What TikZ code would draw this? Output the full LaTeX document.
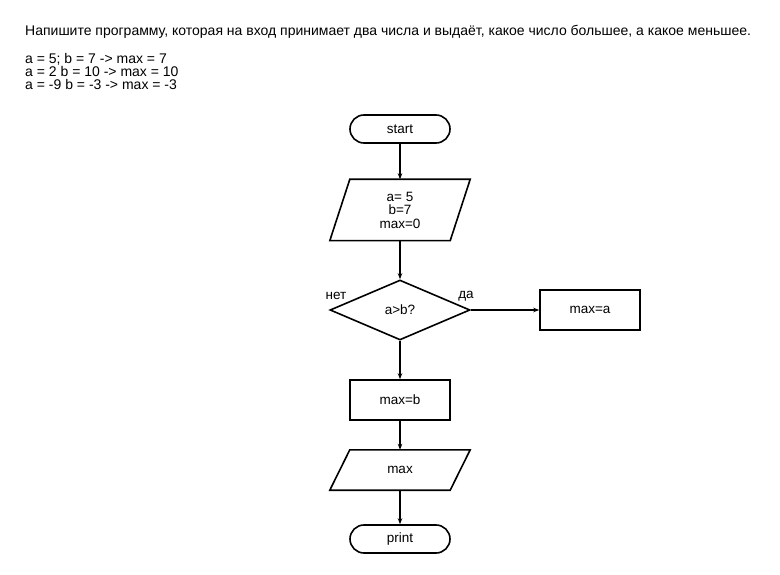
\documentclass[tikz,border=0pt]{standalone}
\usepackage{fontspec}
\setmainfont{Liberation Sans}
\usetikzlibrary{positioning,shapes.geometric,arrows.meta}

\begin{document}
\begin{tikzpicture}[x=1pt, y=-1pt, font=\fontsize{13.5}{13.5}\selectfont,
    outline/.style={draw, line width=1.6pt},
    terminal/.style={outline, rounded corners=14pt, minimum width=100pt, minimum height=28pt, inner sep=0pt},
    procbox/.style={outline, minimum width=100pt, minimum height=40pt, inner sep=0pt},
    iobox/.style={minimum width=120pt, inner sep=0pt, align=center},
    decision/.style={outline, diamond, aspect=2.33, minimum width=140pt, minimum height=60pt, inner sep=0pt},
    tasktext/.style={anchor=base west, inner sep=0pt, font=\fontsize{14}{14}\selectfont},
    arr/.style={line width=1.1pt, -{Stealth[length=6pt, width=4.5pt]}}]
  \useasboundingbox (0,0) rectangle (780,575);
  % task text
  \node[tasktext] (task) at (25,36)
    {Напишите программу, которая на вход принимает два числа и выдаёт, какое число большее, а какое меньшее.};
  \node[tasktext] (ex1) at (25,64) {a = 5; b = 7 -> max = 7};
  \node[tasktext] (ex2) at (25,77) {a = 2 b = 10 -> max = 10};
  \node[tasktext] (ex3) at (25,90) {a = -9 b = -3 -> max = -3};
  % flowchart
  \node[terminal] (start) at (400,129) {start};
  \node[iobox, minimum height=61pt] (input) at (400,210) {a= 5\\b=7\\max=0};
  \node[decision] (check) at (400,310) {a>b?};
  \node[procbox] (maxa) at (590,310) {max=a};
  \node[procbox] (maxb) at (400,400) {max=b};
  \node[iobox, minimum height=40pt] (output) at (400,470) {max};
  \node[terminal] (print) at (400,539) {print};
  \node (no) at (336,296) {нет};
  \node (yes) at (466,296) {да};
  % parallelograms round the io nodes
  \foreach \n in {input,output}
    \draw[outline] ([xshift=10pt]\n.north west) -- ([xshift=10pt]\n.north east)
      -- ([xshift=-10pt]\n.south east) -- ([xshift=-10pt]\n.south west) -- cycle;
  \draw[arr] (start) -- (input);
  \draw[arr] (input) -- (check);
  \draw[arr] (check) -- (maxa);
  \draw[arr] (check) -- (maxb);
  \draw[arr] (maxb) -- (output);
  \draw[arr] (output) -- (print);
\end{tikzpicture}
\end{document}
